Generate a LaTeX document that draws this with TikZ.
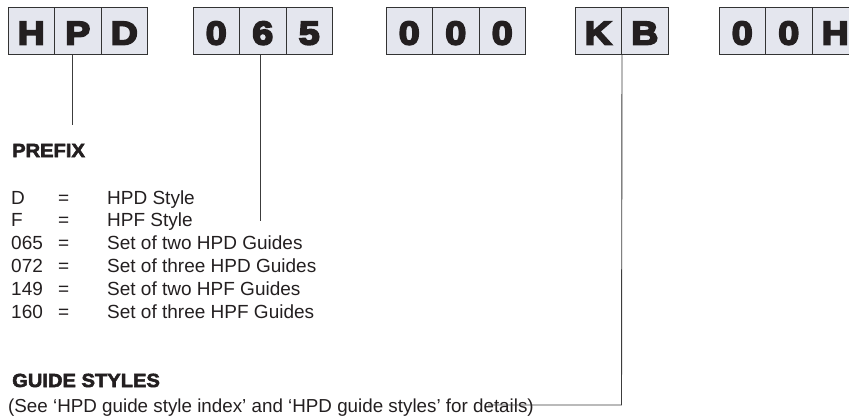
\documentclass[tikz,border=0pt]{standalone}
\usepackage{fontspec}
\setmainfont{Liberation Sans}
\newfontfamily\heavyfont[FakeBold=5.5,FakeStretch=1.14]{Liberation Sans Bold}
\newfontfamily\headfont[FakeBold=3,FakeStretch=1.06]{Liberation Sans Bold}
\definecolor{cellfill}{RGB}{228,230,238}
\definecolor{inkgray}{RGB}{35,31,32}
\definecolor{leadgray}{RGB}{60,60,60}
\tikzset{
  cellbox/.style={draw=black!80, line width=1pt, fill=cellfill, minimum width=46.5pt,
    minimum height=47pt, inner sep=0pt, text height=28pt, text depth=0pt,
    text=inkgray, font=\heavyfont\fontsize{33}{33}\selectfont},
  txt/.style={inner sep=0pt, anchor=base west, text=inkgray, font=\fontsize{19}{22}\selectfont},
  headtxt/.style={inner sep=0pt, anchor=base west, text=inkgray, font=\headfont\fontsize{19}{22}\selectfont},
  lead/.style={draw=leadgray, line width=0.9pt}
}
\begin{document}
\begin{tikzpicture}[x=1pt,y=-1pt]
\useasboundingbox (0,0) rectangle (849,418);
% code boxes
\node[cellbox] (h1) at (31.25,30.5) {H};
\node[cellbox] (p1) at (77.75,30.5) {P};
\node[cellbox] (d1) at (124.25,30.5) {D};
\node[cellbox] (n0) at (216.25,30.5) {0};
\node[cellbox] (n6) at (262.75,30.5) {6};
\node[cellbox] (n5) at (309.25,30.5) {5};
\node[cellbox] (z1) at (409.25,30.5) {0};
\node[cellbox] (z2) at (455.75,30.5) {0};
\node[cellbox] (z3) at (502.25,30.5) {0};
\node[cellbox] (k1) at (598.25,30.5) {K};
\node[cellbox] (b1) at (644.75,30.5) {B};
\node[cellbox] (q1) at (742.25,30.5) {0};
\node[cellbox] (q2) at (788.75,30.5) {0};
\node[cellbox] (q3) at (835.25,30.5) {H};
% headings and list
\node[headtxt] (prefix) at (12,157) {PREFIX};
\node[txt] (c1) at (11,204) {D};
\node[txt] (c2) at (11,226.8) {F};
\node[txt] (c3) at (11,249.6) {065};
\node[txt] (c4) at (11,272.4) {072};
\node[txt] (c5) at (11,295.2) {149};
\node[txt] (c6) at (11,318) {160};
\foreach \i/\y in {1/204,2/226.8,3/249.6,4/272.4,5/295.2,6/318}
  \node[txt] (e\i) at (58,\y) {=};
\node[txt] (t1) at (107,204) {HPD Style};
\node[txt] (t2) at (107,226.8) {HPF Style};
\node[txt] (t3) at (107,249.6) {Set of two HPD Guides};
\node[txt] (t4) at (107,272.4) {Set of three HPD Guides};
\node[txt] (t5) at (107,295.2) {Set of two HPF Guides};
\node[txt] (t6) at (107,318) {Set of three HPF Guides};
\node[headtxt] (guide) at (12,387) {GUIDE STYLES};
\node[txt, font=\fontsize{18.8}{22}\selectfont] (see) at (8,412) {(See ‘HPD guide style index’ and ‘HPD guide styles’ for details)};
% leader lines
\coordinate (prefend) at (72,125);
\coordinate (setend) at (260,221);
\coordinate (kbcorner) at (621.5,405);
\coordinate (kbend) at (488,405);
\draw[lead] ([xshift=-5.75pt]p1.south) -- (prefend);
\draw[lead] ([xshift=-2.75pt]n6.south) -- (setend);
\draw[lead] (k1.south east) -- (kbcorner) -- (kbend);
\end{tikzpicture}
\end{document}
